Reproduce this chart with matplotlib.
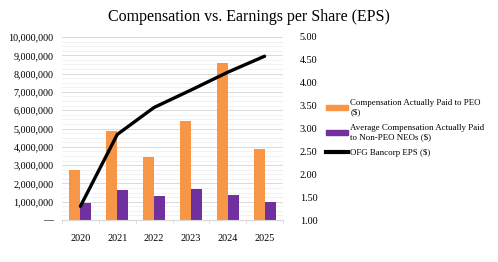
import matplotlib
matplotlib.use("Agg")
import matplotlib.pyplot as plt
from matplotlib.ticker import FuncFormatter, MultipleLocator
from matplotlib.patches import Patch
from matplotlib.lines import Line2D
import numpy as np

plt.rcParams['font.family'] = ['Liberation Serif', 'DejaVu Serif']

years = ["2020", "2021", "2022", "2023", "2024", "2025"]
peo_cap = [2750000, 4860000, 3440000, 5400000, 8580000, 3880000]
neo_cap = [930000, 1630000, 1310000, 1680000, 1340000, 1000000]
eps = [1.30, 2.87, 3.46, 3.84, 4.23, 4.58]

orange = "#F79646"
purple = "#7030A0"

fig = plt.figure(figsize=(4.98, 2.62), dpi=100)
ax = fig.add_axes([62 / 498, 1 - 220 / 262, 221 / 498, 183 / 262])
ax2 = ax.twinx()

x = np.arange(len(years))
w = 0.3
ax.bar(x - w / 2, peo_cap, w, color=orange, zorder=3)
ax.bar(x + w / 2, neo_cap, w, color=purple, zorder=3)
ax2.plot(x, eps, color="black", lw=2.4, solid_capstyle="round", zorder=4)

# left axis
ax.set_ylim(0, 10000000)
ax.set_xlim(-0.5, len(years) - 0.5)
ax.yaxis.set_major_locator(MultipleLocator(1000000))
ax.yaxis.set_minor_locator(MultipleLocator(250000))
ax.yaxis.set_major_formatter(FuncFormatter(lambda v, p: "—" if v == 0 else f"{v:,.0f}"))
ax.grid(axis="y", which="major", color="#d9d9d9", lw=0.7, zorder=0)
ax.grid(axis="y", which="minor", color="#efefef", lw=0.6, zorder=0)
ax.set_xticks(x)
ax.set_xticklabels(years)
ax.set_xticks(np.arange(-0.5, len(years)), minor=True)
ax.tick_params(axis="x", which="major", length=0, labelsize=7.3, pad=10)
ax.tick_params(axis="x", which="minor", length=3, color="#d9d9d9")
ax.tick_params(axis="y", which="both", length=0, labelsize=7.3, pad=6)

# right axis
ax2.set_ylim(1, 5)
ax2.yaxis.set_major_locator(MultipleLocator(0.5))
ax2.yaxis.set_major_formatter(FuncFormatter(lambda v, p: f"{v:.2f}"))
ax2.tick_params(axis="y", length=0, labelsize=7.3, pad=12)

for a in (ax, ax2):
    for s in ("top", "left", "right"):
        a.spines[s].set_visible(False)
    a.spines["bottom"].set_color("#d9d9d9")
    a.spines["bottom"].set_linewidth(0.8)

fig.suptitle("Compensation vs. Earnings per Share (EPS)", y=0.965, x=0.5, fontsize=11.5)

handles = [
    Patch(color=orange),
    Patch(color=purple),
    Line2D([0], [0], color="black", lw=3),
]
labels = [
    "Compensation Actually Paid to PEO\n($)",
    "Average Compensation Actually Paid\nto Non-PEO NEOs ($)",
    "OFG Bancorp EPS ($)",
]
fig.legend(handles, labels, loc="upper left", bbox_to_anchor=(0.648, 0.635),
           frameon=False, fontsize=6.4, handlelength=2.5, handleheight=0.55,
           handletextpad=0.2, labelspacing=0.85, borderaxespad=0)

fig.savefig("out.png", dpi=100)
